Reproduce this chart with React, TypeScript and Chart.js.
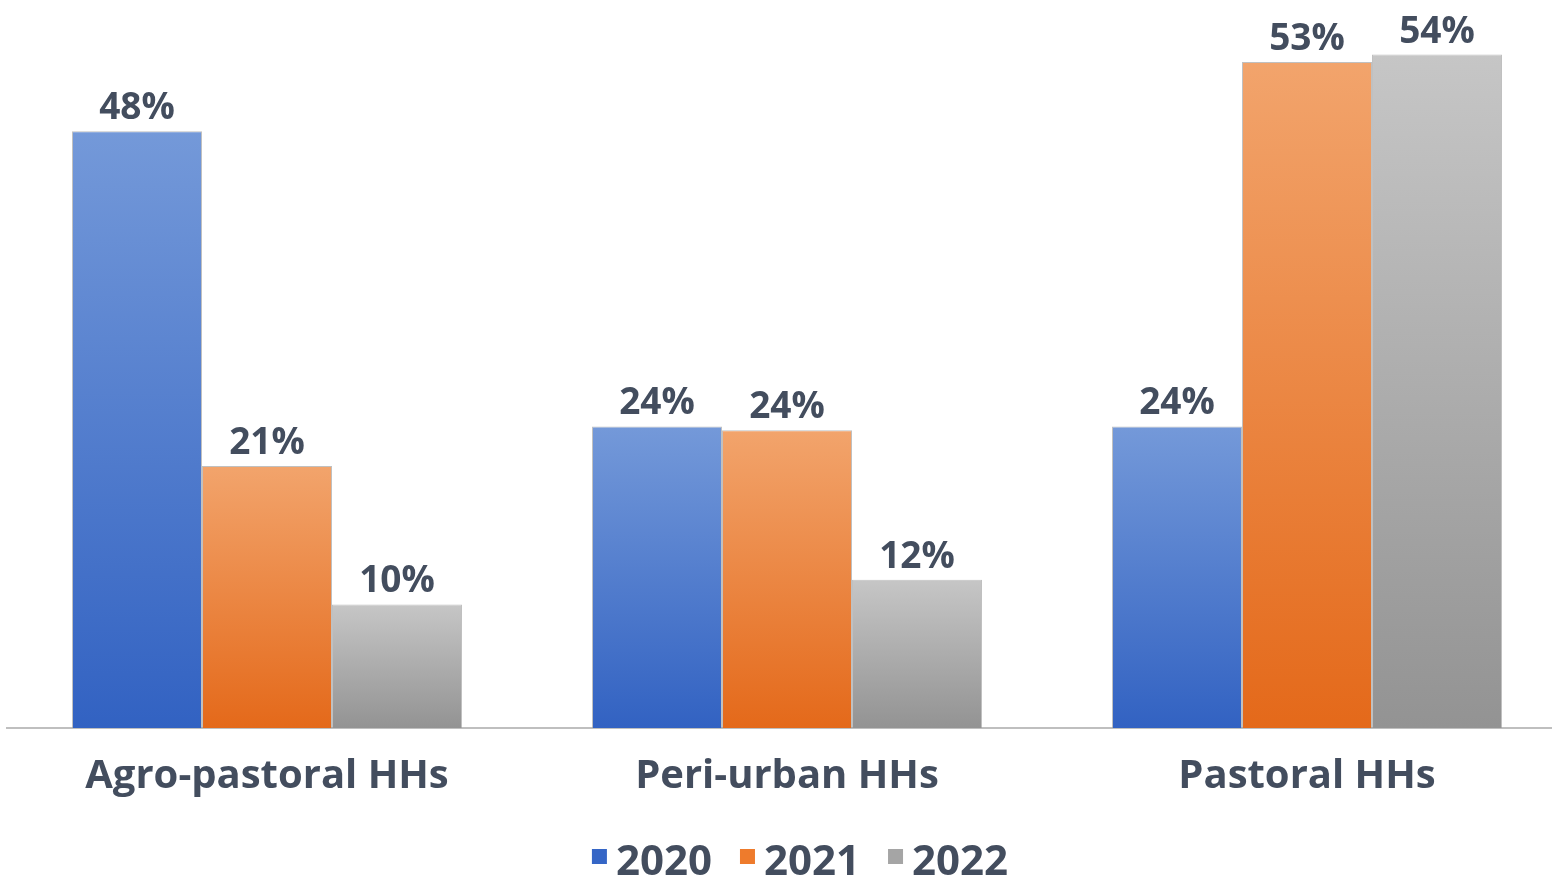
import React, { useEffect, useRef } from "react";
import { Chart, registerables } from "chart.js";

Chart.register(...registerables);

const categories = ["Agro-pastoral HHs", "Peri-urban HHs", "Pastoral HHs"];
const seriesNames = ["2020", "2021", "2022"];
const values2020 = [48.3, 24.4, 24.4];
const values2021 = [21.2, 24.1, 53.9];
const values2022 = [10.0, 12.0, 54.5];
const seriesValues = [values2020, values2021, values2022];
const topColors = ["#7499d9", "#f2a46c", "#c6c6c6"];
const bottomColors = ["#3262c2", "#e4691a", "#939393"];
const legendColors = ["#3566c6", "#ee7b2c", "#a5a5a5"];
const textColor = "#434d5e";
const FONT = "'Open Sans', 'DejaVu Sans', sans-serif";

const labelPlugin = {
  id: "valueLabels",
  afterDatasetsDraw(chart: any) {
    const ctx = chart.ctx;
    ctx.save();
    ctx.font = `bold 37px ${FONT}`;
    ctx.fillStyle = textColor;
    ctx.textAlign = "center";
    ctx.textBaseline = "alphabetic";
    chart.data.datasets.forEach((ds: any, di: number) => {
      const meta = chart.getDatasetMeta(di);
      meta.data.forEach((bar: any, i: number) => {
        const v = ds.data[i] as number;
        ctx.fillText(`${Math.floor(v)}%`, bar.x, bar.y - 12);
      });
    });
    ctx.restore();
  },
};

const legendPlugin = {
  id: "customLegend",
  afterDraw(chart: any) {
    const ctx = chart.ctx;
    ctx.save();
    ctx.font = `bold 42px ${FONT}`;
    ctx.textBaseline = "alphabetic";
    ctx.textAlign = "left";
    const box = 15;
    const gap = 9;
    const itemGap = 28;
    const widths = seriesNames.map((n) => box + gap + ctx.measureText(n).width);
    const total = widths.reduce((a, b) => a + b, 0) + itemGap * (seriesNames.length - 1);
    let x = 800 - total / 2;
    const baseY = 875;
    seriesNames.forEach((n, i) => {
      ctx.fillStyle = legendColors[i];
      ctx.fillRect(x, baseY - 26, box, box);
      ctx.fillStyle = textColor;
      ctx.fillText(n, x + box + gap, baseY);
      x += widths[i] + itemGap;
    });
    ctx.restore();
  },
};

export default function App() {
  const ref = useRef<HTMLCanvasElement>(null);
  useEffect(() => {
    if (!ref.current) return;
    const makeGrad = (si: number) => (c: any) => {
      const chart = c.chart;
      if (!chart.chartArea || c.type !== "data") return legendColors[si];
      const y = chart.scales.y;
      const top = y.getPixelForValue(c.raw);
      const bottom = y.getPixelForValue(0);
      const g = chart.ctx.createLinearGradient(0, top, 0, bottom);
      g.addColorStop(0, topColors[si]);
      g.addColorStop(1, bottomColors[si]);
      return g;
    };
    const chart = new Chart(ref.current, {
      type: "bar",
      data: {
        labels: categories,
        datasets: seriesNames.map((n, si) => ({
          label: n,
          data: seriesValues[si],
          backgroundColor: makeGrad(si),
          borderColor: "rgba(150,150,150,0.6)",
          borderWidth: 1,
          categoryPercentage: 0.75,
          barPercentage: 1,
        })),
      },
      options: {
        animation: false,
        responsive: false,
        maintainAspectRatio: false,
        layout: { padding: { left: 7, right: 0, top: 36, bottom: 52 } },
        plugins: { legend: { display: false }, tooltip: { enabled: false } },
        scales: {
          x: {
            grid: { display: false, drawTicks: false },
            border: { display: true, color: "#bfbfbf", width: 2 },
            ticks: {
              color: textColor,
              font: { family: FONT, size: 40, weight: "bold" },
              padding: 25,
            },
          },
          y: { display: false, min: 0, max: 56 },
        },
      },
      plugins: [labelPlugin, legendPlugin],
    });
    return () => chart.destroy();
  }, []);
  return (
    <div style={{ position: "fixed", left: 0, top: 0, width: 1552, height: 878, overflow: "hidden", background: "#fff" }}>
      <canvas ref={ref} width={1567} height={878} style={{ display: "block" }} />
    </div>
  );
}
